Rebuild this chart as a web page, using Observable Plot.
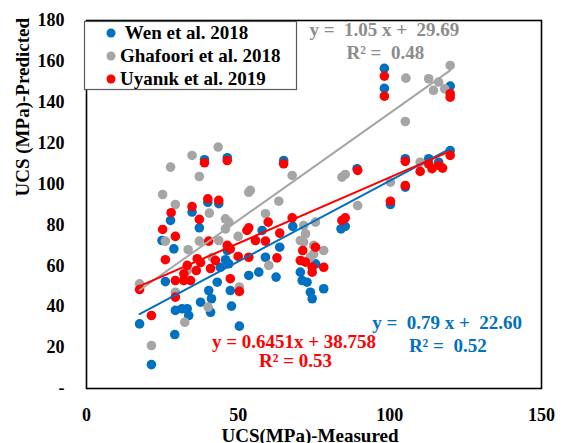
<!DOCTYPE html>
<html>
<head>
<meta charset="utf-8">
<script src="https://cdn.jsdelivr.net/npm/d3@7"></script>
<script src="https://cdn.jsdelivr.net/npm/@observablehq/plot@0.6"></script>
<style>
  html, body { margin: 0; padding: 0; background: #fff; }
  svg text { white-space: pre; }
</style>
</head>
<body>
<div id="chart"></div>
<script>
// Measured vs. predicted UCS (MPa) for three published models
const seriesNames = ["Wen et al. 2018", "Ghafoori et al. 2018", "Uyanık et al. 2019"];

const wenX = [17.5, 21.4, 29.1, 26.0, 29.3, 31.5, 33.2, 33.7, 37.6, 40.3, 41.2, 40.9, 24.9, 28.8, 27.7, 34.8, 37.2, 38.9, 40.0, 43.6, 46.4, 65.0, 68.0, 57.9, 63.7, 59.0, 46.4, 45.8, 46.9, 43.1, 47.4, 47.8, 50.4, 53.5, 56.8, 62.5, 70.5, 71.1, 72.7, 73.8, 74.4, 78.2, 75.5, 83.9, 85.3, 89.2, 100.2, 98.2, 98.2, 105.1, 112.8, 116.1, 119.9, 119.9, 105.1, 44.1];
const wenY = [31.6, 11.7, 26.4, 52.3, 38.2, 39.0, 39.0, 35.7, 42.2, 47.9, 43.9, 37.3, 72.4, 68.3, 82.2, 86.3, 78.6, 111.9, 91.1, 90.4, 112.9, 111.5, 79.3, 77.3, 69.1, 64.2, 67.5, 63.0, 61.0, 52.0, 47.9, 40.3, 30.5, 55.3, 56.9, 54.5, 56.9, 52.8, 52.0, 47.1, 43.9, 48.8, 61.0, 78.1, 79.3, 107.5, 90.0, 156.6, 146.8, 112.4, 112.4, 110.7, 116.4, 147.9, 98.5, 59.3];

const ghafooriX = [17.5, 21.4, 26.0, 25.1, 27.7, 29.3, 34.8, 37.2, 43.4, 40.5, 37.2, 33.5, 29.3, 33.2, 32.4, 40.1, 53.5, 54.0, 63.4, 67.8, 59.0, 45.8, 46.9, 45.8, 43.6, 50.0, 50.4, 60.1, 70.5, 71.6, 72.2, 71.6, 74.9, 78.2, 74.9, 73.8, 75.5, 84.2, 85.3, 89.4, 100.2, 105.3, 105.1, 110.0, 112.8, 116.1, 114.4, 118.1, 119.9, 41.5];
const ghafooriY = [51.2, 21.0, 72.1, 94.9, 108.3, 90.0, 114.0, 103.7, 118.1, 85.8, 72.1, 67.9, 47.1, 57.7, 32.4, 39.8, 96.0, 96.9, 91.6, 104.2, 85.5, 83.0, 81.4, 78.1, 72.4, 74.4, 49.6, 60.2, 72.4, 79.7, 75.7, 71.6, 70.0, 67.5, 65.9, 64.2, 81.4, 103.4, 104.7, 89.5, 100.9, 151.8, 130.6, 110.7, 151.5, 149.9, 145.8, 146.6, 158.0, 64.1];

const uyanikX = [17.5, 21.4, 25.1, 27.9, 29.3, 26.0, 29.3, 32.1, 34.3, 29.3, 32.1, 34.8, 37.2, 38.9, 40.0, 43.6, 46.4, 40.3, 37.6, 36.2, 40.9, 42.5, 47.4, 50.4, 46.4, 47.4, 53.5, 52.9, 59.9, 55.7, 59.0, 63.7, 50.0, 53.5, 62.8, 65.0, 67.8, 71.3, 70.5, 72.2, 74.4, 74.4, 75.5, 78.2, 84.2, 85.3, 89.4, 100.2, 98.2, 98.2, 105.1, 105.1, 110.0, 112.8, 113.9, 116.1, 117.4, 119.9, 119.9, 119.9, 36.5, 33.2];
const uyanikY = [48.4, 35.7, 77.8, 86.0, 74.4, 63.0, 52.8, 52.8, 52.8, 44.7, 56.1, 89.0, 82.7, 110.4, 92.8, 92.0, 111.5, 72.1, 61.6, 57.7, 58.7, 62.6, 53.7, 47.5, 70.0, 68.3, 78.6, 77.3, 81.4, 72.4, 72.1, 76.0, 64.6, 64.2, 63.9, 109.9, 83.5, 67.5, 62.6, 61.8, 59.3, 56.9, 69.1, 59.3, 82.2, 83.5, 106.7, 91.6, 152.8, 143.0, 111.1, 99.3, 106.2, 109.9, 107.5, 109.1, 107.8, 114.0, 144.2, 142.5, 63.5, 60.2];

// Linear trend lines (slope, intercept) and R² per series
const slopes = [0.79, 1.05, 0.6451];
const intercepts = [22.60, 29.69, 38.758];
const rSquared = [0.52, 0.48, 0.53];
const equationLabels = ["y =  0.79 x +  22.60", "y =  1.05 x +  29.69", "y = 0.6451x + 38.758"];
const r2Labels = ["R² =  0.52", "R² =  0.48", "R² = 0.53"];

const xTicks = [0, 50, 100, 150];
const yTicks = [0, 20, 40, 60, 80, 100, 120, 140, 160, 180];

const colors = ["#0070C0", "#A5A5A5", "#FF0000"];
const textColors = ["#0070C0", "#8C8C8C", "#FF0000"];
const serif = "'Liberation Serif', 'Times New Roman', serif";

const columns = [[wenX, wenY], [ghafooriX, ghafooriY], [uyanikX, uyanikY]];
const points = columns.map(([xs, ys], i) => xs.map((x, j) => ({series: seriesNames[i], x, y: ys[j]})));
const fits = columns.map(([xs], i) => d3.extent(xs).map(x => ({series: seriesNames[i], x, y: slopes[i] * x + intercepts[i]})));

// Equation label placement in data units: [line 1 x, line 1 y, line 2 x, line 2 y]
const labelAt = [[118.9, 28.9, 119.1, 17.8], [98.2, 172.2, 98.5, 161.0], [68.4, 19.7, 68.9, 10.4]];

const chart = Plot.plot({
  width: 563,
  height: 443,
  marginLeft: 86,
  marginRight: 22,
  marginTop: 20,
  marginBottom: 55,
  style: {fontFamily: serif, fontWeight: "bold", fontSize: "18px", color: "#000", background: "#fff"},
  x: {domain: [0, 150], ticks: xTicks, tickSize: 0, tickPadding: 20, label: null},
  y: {domain: [0, 180], ticks: yTicks, tickSize: 0, tickPadding: 22, label: null,
      tickFormat: d => d === 0 ? "-" : String(d)},
  marks: [
    ...points.map((p, i) => Plot.dot(p, {x: "x", y: "y", r: 4.8, fill: colors[i], stroke: "none"})),
    Plot.line(fits[1], {x: "x", y: "y", stroke: colors[1], strokeWidth: 2}),
    Plot.line(fits[0], {x: "x", y: "y", stroke: colors[0], strokeWidth: 2}),
    Plot.line(fits[2], {x: "x", y: "y", stroke: colors[2], strokeWidth: 2}),
    Plot.frame({stroke: "#000", strokeWidth: 1.6}),
    ...labelAt.flatMap(([x1, y1, x2, y2], i) => [
      Plot.text([equationLabels[i]], {x: () => x1, y: () => y1, text: d => d, fill: textColors[i],
        fontSize: 19, fontWeight: "bold", textAnchor: "middle", lineAnchor: "bottom"}),
      Plot.text([r2Labels[i]], {x: () => x2, y: () => y2, text: d => d, fill: textColors[i],
        fontSize: 19, fontWeight: "bold", textAnchor: "middle", lineAnchor: "bottom"})
    ]),
    Plot.text(["UCS (MPa)-Predicted"], {frameAnchor: "left", text: d => d, rotate: -90, dx: -64, dy: -8,
      fontSize: 19, fontWeight: "bold", fill: "#000"}),
    Plot.text(["UCS(MPa)-Measured"], {frameAnchor: "bottom", text: d => d, lineAnchor: "bottom", dy: 53, dx: -4,
      fontSize: 19, fontWeight: "bold", fill: "#000"})
  ]
});

document.getElementById("chart").appendChild(chart);

// Boxed legend in the upper-left corner of the plot area
const svg = d3.select(chart);
const legend = svg.append("g")
  .attr("font-family", serif).attr("font-weight", "bold").attr("font-size", 19)
  .attr("text-anchor", "start");
legend.append("rect")
  .attr("x", 84.5).attr("y", 21.5).attr("width", 212).attr("height", 68)
  .attr("fill", "#fff").attr("stroke", "#595959").attr("stroke-width", 1.2);
const rowY = [33, 56, 79];
seriesNames.forEach((name, i) => {
  legend.append("circle").attr("cx", 111).attr("cy", rowY[i]).attr("r", 4.5).attr("fill", colors[i]);
  legend.append("text").attr("x", 120).attr("y", rowY[i] + 6).attr("fill", "#000")
    .style("text-anchor", "start")
    .text(i === 0 ? "\u00A0" + name : name);
});
</script>
</body>
</html>
